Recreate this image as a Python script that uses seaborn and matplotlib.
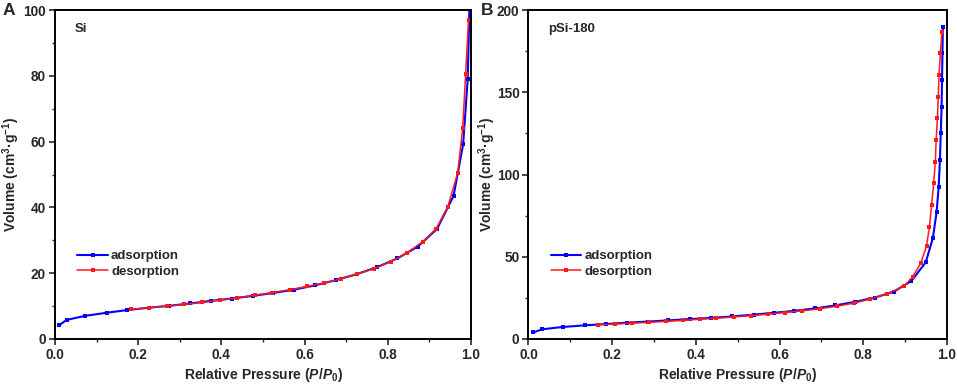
import numpy as np
import pandas as pd
import matplotlib
matplotlib.use('Agg')
import matplotlib.pyplot as plt
from matplotlib.ticker import MultipleLocator
import seaborn as sns

# -------------------------------------------------------------
# N2 isotherm data
# -------------------------------------------------------------
# Panel A: Si
si_ads_p = [0.010, 0.028, 0.071, 0.125, 0.174, 0.225, 0.275, 0.325, 0.375, 0.425,
            0.475, 0.525, 0.575, 0.625, 0.675, 0.725, 0.775, 0.823, 0.872, 0.918,
            0.958, 0.981, 0.992, 0.997]
si_ads_v = [4.2, 5.8, 7.0, 8.0, 8.8, 9.5, 10.1, 10.8, 11.6, 12.3,
            13.1, 14.0, 15.0, 16.3, 17.9, 19.7, 21.9, 24.5, 28.1, 33.4,
            43.5, 59.2, 79.0, 105.0]
si_des_p = [0.994, 0.987, 0.980, 0.968, 0.944, 0.916, 0.884, 0.846, 0.807, 0.767,
            0.727, 0.687, 0.647, 0.606, 0.565, 0.522, 0.480, 0.438, 0.396, 0.353,
            0.311, 0.269, 0.225, 0.183]
si_des_v = [97.0, 80.5, 64.2, 50.5, 40.2, 33.5, 29.6, 26.2, 23.5, 21.4,
            19.8, 18.3, 17.0, 16.0, 15.0, 14.1, 13.3, 12.5, 11.8, 11.1,
            10.5, 10.0, 9.5, 9.0]

# Panel B: pSi-180
psi_ads_p = [0.012, 0.033, 0.082, 0.135, 0.185, 0.235, 0.285, 0.334, 0.386, 0.435,
             0.486, 0.538, 0.586, 0.635, 0.685, 0.733, 0.780, 0.828, 0.873, 0.915,
             0.949, 0.966, 0.975, 0.980, 0.983, 0.985, 0.987, 0.988, 0.989, 0.990]
psi_ads_v = [4.0, 5.9, 7.3, 8.3, 9.1, 9.9, 10.6, 11.3, 12.1, 12.8,
             13.7, 14.8, 15.9, 17.1, 18.6, 20.4, 22.6, 25.2, 28.8, 35.3,
             46.6, 61.2, 77.0, 92.6, 108.8, 125.0, 141.2, 157.4, 173.7, 189.9]
psi_des_p = [0.988, 0.984, 0.981, 0.979, 0.977, 0.974, 0.972, 0.968, 0.963, 0.958,
             0.951, 0.937, 0.918, 0.897, 0.857, 0.817, 0.777, 0.737, 0.696, 0.654,
             0.614, 0.572, 0.532, 0.490, 0.449, 0.409, 0.369, 0.328, 0.287, 0.247,
             0.207, 0.167]
psi_des_v = [186.8, 173.7, 160.5, 147.3, 134.2, 121.0, 107.8, 94.6, 81.5, 68.3,
             56.5, 46.0, 37.9, 32.0, 27.6, 24.3, 21.8, 19.9, 18.4, 17.1,
             16.1, 15.1, 14.2, 13.4, 12.6, 12.0, 11.3, 10.7, 10.1, 9.6,
             9.1, 8.7]

# -------------------------------------------------------------
# Style
# -------------------------------------------------------------
sns.set_style("ticks")
plt.rcParams['font.family'] = ['Liberation Sans', 'DejaVu Sans']
plt.rcParams['font.weight'] = 'bold'
plt.rcParams['mathtext.fontset'] = 'custom'
plt.rcParams['mathtext.rm'] = 'Liberation Sans:bold'
plt.rcParams['mathtext.it'] = 'Liberation Sans:bold:italic'
plt.rcParams['mathtext.bf'] = 'Liberation Sans:bold'

fig = plt.figure(figsize=(9.57, 3.86), dpi=100)
ax_a = fig.add_axes([0.0575, 0.1218, 0.4347, 0.852])
ax_b = fig.add_axes([0.5522, 0.1218, 0.4374, 0.852])

panels = [
    (ax_a, 'Si', si_ads_p, si_ads_v, si_des_p, si_des_v, 100, 20, -0.080),
    (ax_b, 'pSi-180', psi_ads_p, psi_ads_v, psi_des_p, psi_des_v, 200, 50, -0.073),
]

for ax, name, ap, av, dp, dv, ymax, ystep, ylab_x in panels:
    ads = pd.DataFrame({'p': ap, 'v': av})
    des = pd.DataFrame({'p': dp, 'v': dv})

    sns.lineplot(data=ads, x='p', y='v', ax=ax, sort=False, estimator=None,
                 color='#0000FF', linewidth=1.5, marker='s', markersize=2.3,
                 markeredgewidth=0, label='adsorption')
    sns.lineplot(data=des, x='p', y='v', ax=ax, sort=False, estimator=None,
                 color='#FF1A1A', linewidth=1.1, marker='s', markersize=2.3,
                 markeredgewidth=0, label='desorption')

    ax.set_xlim(0, 1.0)
    ax.set_ylim(0, ymax)
    ax.xaxis.set_major_locator(MultipleLocator(0.2))
    ax.xaxis.set_minor_locator(MultipleLocator(0.1))
    ax.yaxis.set_major_locator(MultipleLocator(ystep))
    ax.yaxis.set_minor_locator(MultipleLocator(ystep / 2))
    ax.xaxis.set_major_formatter(plt.FormatStrFormatter('%.1f'))
    ax.yaxis.set_major_formatter(plt.FormatStrFormatter('%d'))

    ax.tick_params(which='major', direction='out', length=4.5, width=1.2,
                   labelsize=9.8, pad=2)
    ax.tick_params(which='minor', direction='out', length=2.5, width=1.0)
    for lbl in ax.get_xticklabels() + ax.get_yticklabels():
        lbl.set_fontweight('bold')

    for sp in ax.spines.values():
        sp.set_visible(True)
        sp.set_linewidth(1.4)
        sp.set_color('black')

    ax.set_xlabel('Relative Pressure ($\\it{P/P_0}$)', fontsize=10,
                  fontweight='bold', labelpad=3)
    ax.set_ylabel('Volume (cm$^{3}$·g$^{-1}$)', fontsize=10,
                  fontweight='bold')
    ax.yaxis.set_label_coords(ylab_x, 0.5)

    ax.text(0.048, 0.942, name, transform=ax.transAxes, fontsize=9.5,
            fontweight='bold', ha='left', va='center')

    ax.legend(loc='lower left', bbox_to_anchor=(0.041, 0.17), frameon=False,
              fontsize=9.5, handlelength=2.3, handletextpad=0.25,
              labelspacing=0.25, borderaxespad=0)
    for t in ax.get_legend().get_texts():
        t.set_fontweight('bold')

fig.text(0.003, 0.972, 'A', fontsize=12.5, fontweight='bold', ha='left', va='center')
fig.text(0.503, 0.972, 'B', fontsize=12.5, fontweight='bold', ha='left', va='center')

plt.savefig('out.png', dpi=100)
